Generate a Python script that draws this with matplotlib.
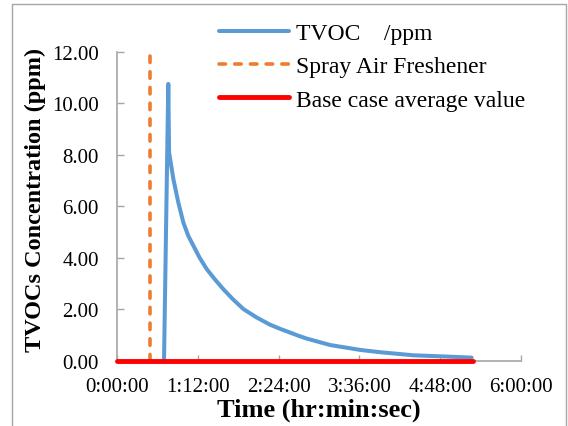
import matplotlib
matplotlib.use("Agg")
import matplotlib.pyplot as plt
from matplotlib.ticker import FuncFormatter
from matplotlib.patches import Rectangle

# Data (time in minutes, TVOC in ppm)
tvoc_time = [41.9, 45.7, 46.4, 50.2, 54.6, 59.1, 63.5, 68.0, 73.5, 79.9, 87, 94.7,
             103, 112.5, 124, 136.3, 145.2, 161.6, 169, 189.8, 216.5, 234.4, 264,
             293.8, 316]
tvoc_ppm = [0, 10.75, 8.09, 7.06, 6.15, 5.37, 4.85, 4.47, 4.01, 3.56, 3.17, 2.78,
            2.40, 2.01, 1.69, 1.40, 1.24, 0.97, 0.86, 0.61, 0.42, 0.33, 0.21,
            0.16, 0.12]
spray_time = [29.5, 29.5]
spray_ppm = [0, 12]
base_time = [0, 317]
base_ppm = [0, 0]
x_ticks = [0, 72, 144, 216, 288, 360]
y_ticks = [0, 2, 4, 6, 8, 10, 12]

plt.rcParams['font.family'] = ['Liberation Serif', 'DejaVu Serif']

fig = plt.figure(figsize=(5.68, 4.27), dpi=100)
ax = fig.add_axes([117/568, 1-361.7/427, (521-117)/568, (361.7-52.7)/427])

ax.plot(tvoc_time, tvoc_ppm, color='#5b9bd5', lw=2.9, label='TVOC    /ppm', zorder=3,
        solid_capstyle='round', solid_joinstyle='round')
ax.plot(spray_time, spray_ppm, color='#ed7d31', lw=2.6, dashes=(1.8, 2.55),
        dash_capstyle='round', label='Spray Air Freshener', zorder=2)
ax.plot(base_time, base_ppm, color='#ff0000', lw=3.5, label='Base case average value',
        zorder=4, clip_on=False, solid_capstyle='round')

ax.set_xlim(0, 360)
ax.set_ylim(0, 12)
ax.set_xticks(x_ticks)
ax.set_yticks(y_ticks)

def hms(x, pos):
    m = int(round(x))
    return f"{m//60}:{m%60:02d}:00"

ax.xaxis.set_major_formatter(FuncFormatter(hms))
ax.yaxis.set_major_formatter(FuncFormatter(lambda v, p: f"{v:.2f}"))

for s in ['top', 'right']:
    ax.spines[s].set_visible(False)
for s in ['left', 'bottom']:
    ax.spines[s].set_color('#a6a6a6')
    ax.spines[s].set_linewidth(1.2)

ax.tick_params(axis='both', direction='in', color='#a6a6a6', width=1.0, labelsize=15)
ax.tick_params(axis='y', length=5, pad=13)
ax.tick_params(axis='x', length=4.5, pad=12)

ax.set_xlabel('Time (hr:min:sec)', fontsize=19, fontweight='bold', labelpad=1)
ax.set_ylabel('TVOCs Concentration (ppm)', fontsize=17.5, fontweight='bold', labelpad=2)
ax.yaxis.set_label_coords(-0.175, (361.7-200)/309)

leg = fig.legend(loc='upper left', bbox_to_anchor=(210/568, 1-14/427), frameon=False,
                 fontsize=17, handlelength=2.95, handletextpad=0.3, labelspacing=0.5,
                 borderaxespad=0)

fig.patches.append(Rectangle((12/568, -0.05), (566-12)/568, (1-5/427)+0.05,
                             transform=fig.transFigure, fill=False,
                             edgecolor='#a6a6a6', lw=1.0))

fig.savefig('out.png', dpi=100)
